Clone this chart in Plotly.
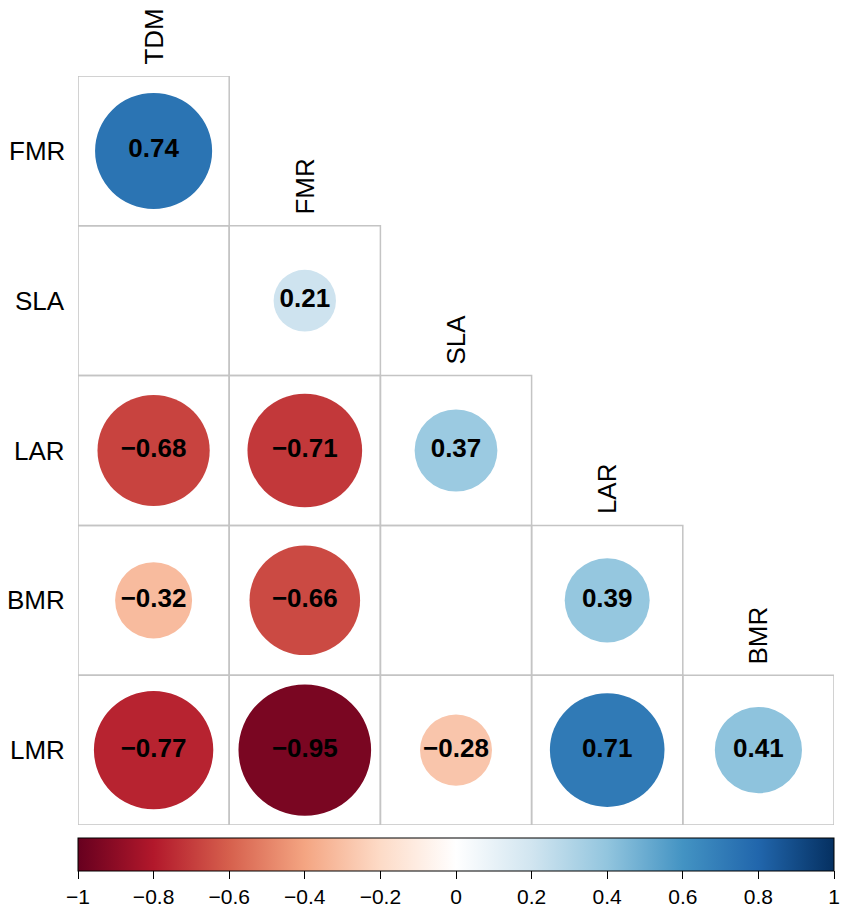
import numpy as np
import plotly.graph_objects as go

# variables (filas = abajo del triangulo, columnas = arriba)
row_vars = ['FMR', 'SLA', 'LAR', 'BMR', 'LMR']
col_vars = ['TDM', 'FMR', 'SLA', 'LAR', 'BMR']

# correlaciones por fila (None = no significativa, celda vacia)
r_fmr = [0.74]
r_sla = [None, 0.21]
r_lar = [-0.68, -0.71, 0.37]
r_bmr = [-0.32, -0.66, None, 0.39]
r_lmr = [-0.77, -0.95, -0.28, 0.71, 0.41]
corr_rows = [r_fmr, r_sla, r_lar, r_bmr, r_lmr]

cbar_ticks = [-1, -0.8, -0.6, -0.4, -0.2, 0, 0.2, 0.4, 0.6, 0.8, 1]

# paleta RdBu como en corrplot
rdbu = ["#67001F", "#B2182B", "#D6604D", "#F4A582", "#FDDBC7", "#FFFFFF",
        "#D1E5F0", "#92C5DE", "#4393C3", "#2166AC", "#053061"]
stops = np.linspace(-1, 1, len(rdbu))
colorscale = [[i / (len(rdbu) - 1), c] for i, c in enumerate(rdbu)]


def hex2rgb(h):
    return np.array([int(h[k:k + 2], 16) for k in (1, 3, 5)], dtype=float)


def color_for(v):
    rgb = [np.interp(v, stops, [hex2rgb(c)[k] for c in rdbu]) for k in range(3)]
    return 'rgb(%d,%d,%d)' % tuple(round(x) for x in rgb)


def fmt(v):
    return f"{v:.2f}".replace('-', '\u2212')


FONT = "Liberation Sans, Arial, sans-serif"
shapes = []
tx, ty, tt = [], [], []

# rejilla gris del triangulo inferior
for i, fila in enumerate(corr_rows, start=1):
    for j, v in enumerate(fila, start=1):
        shapes.append(dict(type='rect', xref='x', yref='y',
                           x0=j - 0.5, x1=j + 0.5, y0=i - 0.5, y1=i + 0.5,
                           line=dict(color='#C4C4C4', width=1.5), layer='below'))

# circulos (radio ~ sqrt(|r|), igual que corrplot)
for i, fila in enumerate(corr_rows, start=1):
    for j, v in enumerate(fila, start=1):
        if v is None:
            continue
        rad = 0.45 * np.sqrt(abs(v))
        shapes.append(dict(type='circle', xref='x', yref='y',
                           x0=j - rad, x1=j + rad, y0=i - rad, y1=i + rad,
                           fillcolor=color_for(v), line=dict(width=0), layer='below'))
        tx.append(j)
        ty.append(i)
        tt.append(f"<b>{fmt(v)}</b>")

fig = go.Figure()

fig.add_trace(go.Scatter(
    x=tx, y=ty, text=tt, mode='text',
    textfont=dict(size=26, color='black', family=FONT),
    hoverinfo='skip', showlegend=False
))

# traza vacia solo para la barra de color
fig.add_trace(go.Scatter(
    x=[None], y=[None], mode='markers', showlegend=False,
    marker=dict(color=[0], colorscale=colorscale, cmin=-1, cmax=1, showscale=True,
                colorbar=dict(
                    orientation='h', x=0.5, xanchor='center', y=-0.017, yanchor='top',
                    len=1, lenmode='fraction', thickness=33, xpad=0, ypad=0,
                    outlinecolor='black', outlinewidth=1,
                    tickvals=cbar_ticks,
                    ticktext=[('%g' % t).replace('-', '\u2212') for t in cbar_ticks],
                    ticks='outside', ticklen=8, tickcolor='black', tickwidth=1,
                    tickfont=dict(size=21, color='black', family=FONT)))
))

annotations = []
# etiquetas de filas
for i, name in enumerate(row_vars, start=1):
    annotations.append(dict(x=0, xref='paper', y=i, yref='y', text=name,
                            xanchor='right', yanchor='middle', xshift=-11,
                            showarrow=False, font=dict(size=26, color='black', family=FONT)))
# etiquetas de columnas, giradas sobre la diagonal
for j, name in enumerate(col_vars, start=1):
    annotations.append(dict(x=j, xref='x', y=j - 0.5, yref='y', text=name,
                            textangle=-90, xanchor='center', yanchor='bottom', yshift=9,
                            showarrow=False, font=dict(size=26, color='black', family=FONT)))

# la pagina deja 8px de margen en body: se descuenta aqui
fig.update_layout(
    width=843, height=913,
    margin=dict(l=70, r=17, t=68, b=88),
    paper_bgcolor='white', plot_bgcolor='white',
    shapes=shapes, annotations=annotations,
    xaxis=dict(range=[0.5, 5.5], visible=False, fixedrange=True),
    yaxis=dict(range=[5.5, 0.5], visible=False, fixedrange=True),
    font=dict(family=FONT)
)

fig.write_html("out.html")
